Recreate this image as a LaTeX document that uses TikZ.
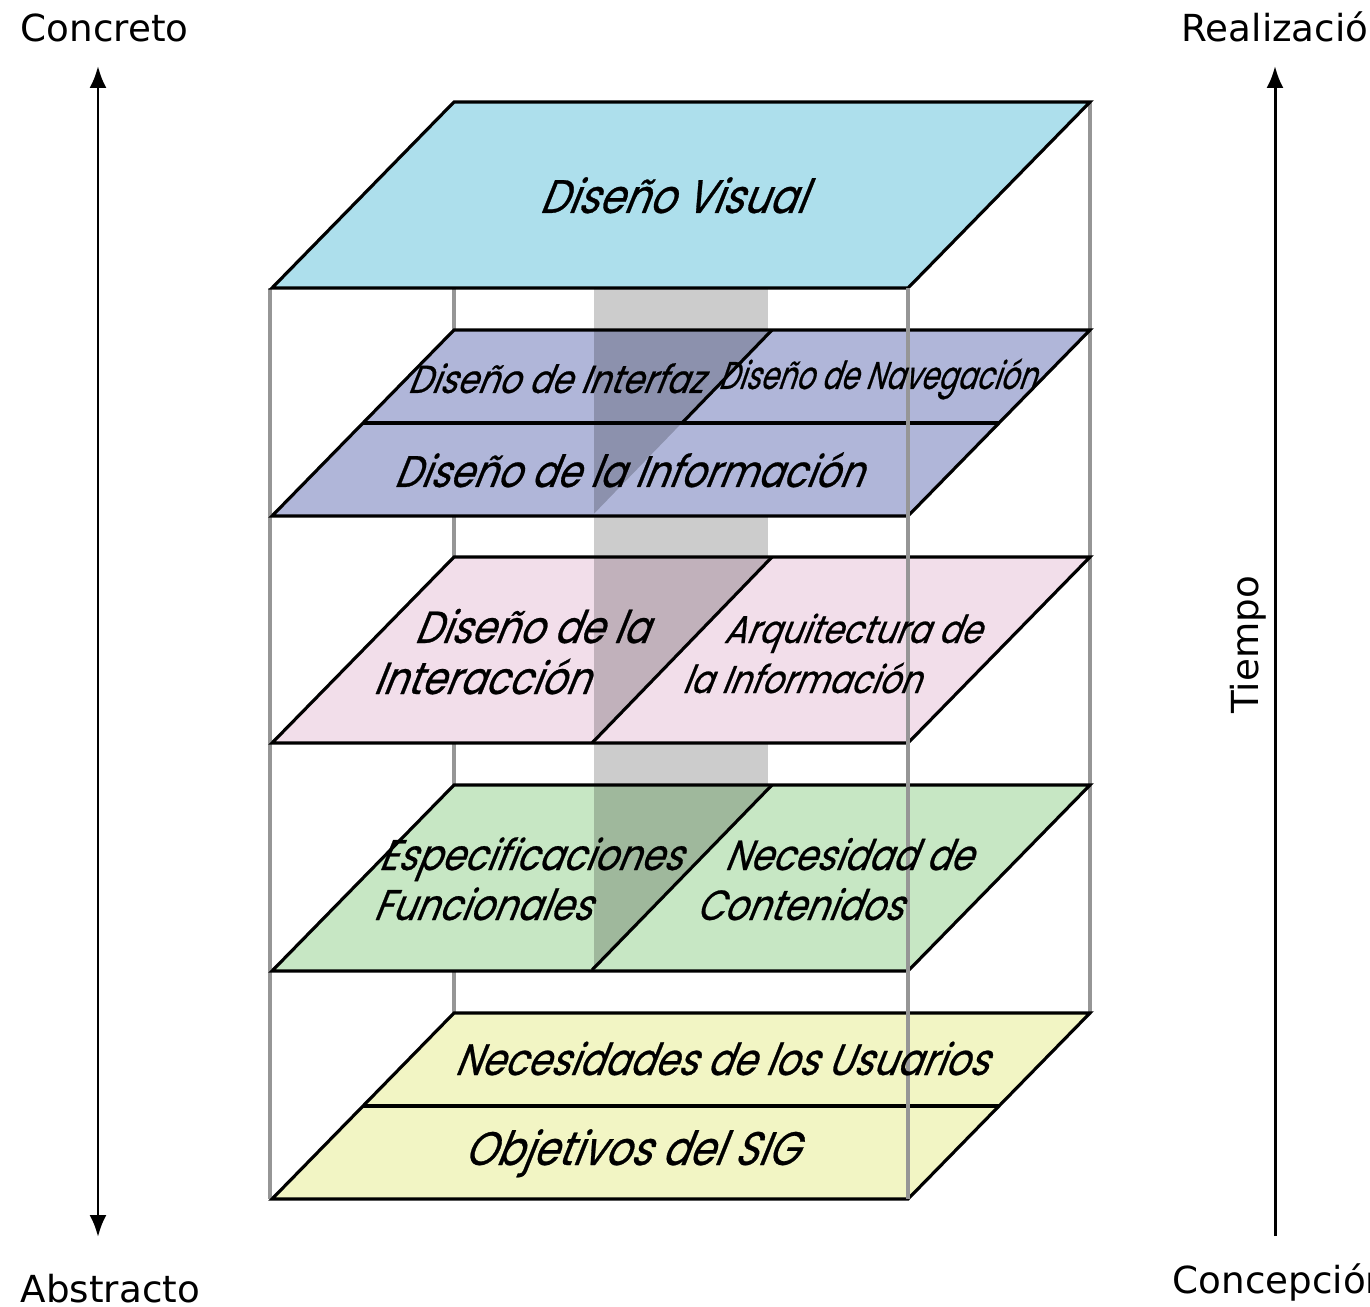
\documentclass[tikz,border=0pt]{standalone}
\usepackage{fontspec}
\setsansfont{DejaVu Sans}
\newfontfamily\capafont{Poppins}[FakeSlant=0.4, FakeStretch=0.85, FakeBold=0.6]
\usetikzlibrary{arrows.meta, positioning, calc}

\definecolor{CapaVisual}{RGB}{173,223,236}
\definecolor{CapaDiseno}{RGB}{176,182,217}
\definecolor{CapaArq}{RGB}{242,222,234}
\definecolor{CapaReq}{RGB}{199,231,196}
\definecolor{CapaObj}{RGB}{242,245,196}
\definecolor{Marco}{RGB}{150,150,150}

\tikzset{
	capa/.style={draw=black, line width=0.9pt, line join=miter},
	marco/.style={draw=Marco, line width=1.1pt},
	etiq/.style={font=\capafont\fontsize{#1}{#1}\selectfont, inner sep=0pt, anchor=base},
	etiq/.default=12.5,
	extremo/.style={font=\sffamily\fontsize{10.6}{12}\selectfont, inner sep=0pt, anchor=base west},
	eje/.style={line width=0.85pt},
	punta/.tip={Latex[length=2.2mm,width=1.7mm]},
}

\begin{document}
\begin{tikzpicture}[x=0.1mm, y=-0.1mm]
	\useasboundingbox (0,0) rectangle (1370,1307);
	% aristas del prisma que quedan detras
	\draw[marco] (454,102) -- (454,1013);
	\draw[marco] (1090,102) -- (1090,1013);
	\draw[marco] (270,288) -- (270,1199);
	% capas: y del borde de fondo / color
	\foreach \b/\c in {102/CapaVisual, 330/CapaDiseno, 557/CapaArq, 785/CapaReq, 1013/CapaObj}
		\fill[\c] (454,\b) -- (1090,\b) -- (908,\b+186) -- (272,\b+186) -- cycle;
	% columna gris translucida
	\fill[black, opacity=0.2] (594,288) rectangle (768,970);
	\foreach \b/\c in {330/CapaDiseno, 557/CapaArq, 785/CapaReq}
		\fill[\c] (772,\b) -- (1090,\b) -- (908,\b+186) -- (592,\b+186) -- cycle;
	\foreach \b in {102, 330, 557, 785, 1013}
		\draw[capa] (454,\b) -- (1090,\b) -- (908,\b+186) -- (272,\b+186) -- cycle;
	% divisiones internas
	\draw[capa] (363,423) -- (999,423);
	\draw[capa] (682,423) -- (772,330);
	\draw[capa] (592,743) -- (772,557);
	\draw[capa] (592,970) -- (772,785);
	\draw[capa] (363,1106) -- (999,1106);
	% arista delantera derecha, por encima
	\draw[marco] (908,288) -- (908,1199);

	\node[etiq=13.4] (visual) at (672,213) {Diseño Visual};
	\node[etiq=11.1] (interfaz) at (555,393) {Diseño de Interfaz};
	\node[etiq=11] (navega) at (877,389) {\scalebox{0.86}[1]{Diseño de Navegación}};
	\node[etiq=12.6] (informa) at (628,487) {Diseño de la Información};
	\node[etiq=12.8] (interac1) at (531,643) {Diseño de la};
	\node[etiq=12.8] (interac2) at (481,694) {Interacción};
	\node[etiq=11] (arqui1) at (852,643) {Arquitectura de};
	\node[etiq=11] (arqui2) at (801,693) {la Información};
	\node[etiq=12.2] (especif1) at (530,870) {Especificaciones};
	\node[etiq=12.2] (especif2) at (482,920) {Funcionales};
	\node[etiq=12] (necesid1) at (848,870) {Necesidad de};
	\node[etiq=12] (necesid2) at (799,920) {Contenidos};
	\node[etiq] (usuarios) at (721,1075) {Necesidades de los Usuarios};
	\node[etiq=13.4] (objetivos) at (631,1165) {Objetivos del SIG};

	% ejes laterales
	\node[extremo] (concreto) at (20,42) {Concreto};
	\node[extremo] (abstracto) at (20,1302) {Abstracto};
	\node[extremo] (realiza) at (1181,42) {Realización};
	\node[extremo] (concep) at (1172,1293) {Concepción};
	\node[font=\sffamily\fontsize{10.6}{12}\selectfont, rotate=90, inner sep=0pt] (tiempo) at (1248,645) {Tiempo};
	\coordinate (izqArriba) at (98,66);
	\coordinate (izqAbajo) at (98,1237);
	\coordinate (derArriba) at (1275,66);
	\coordinate (derAbajo) at (1275,1236);
	\draw[eje, punta-punta] (izqAbajo) -- (izqArriba);
	\draw[eje, -punta] (derAbajo) -- (derArriba);
\end{tikzpicture}
\end{document}
